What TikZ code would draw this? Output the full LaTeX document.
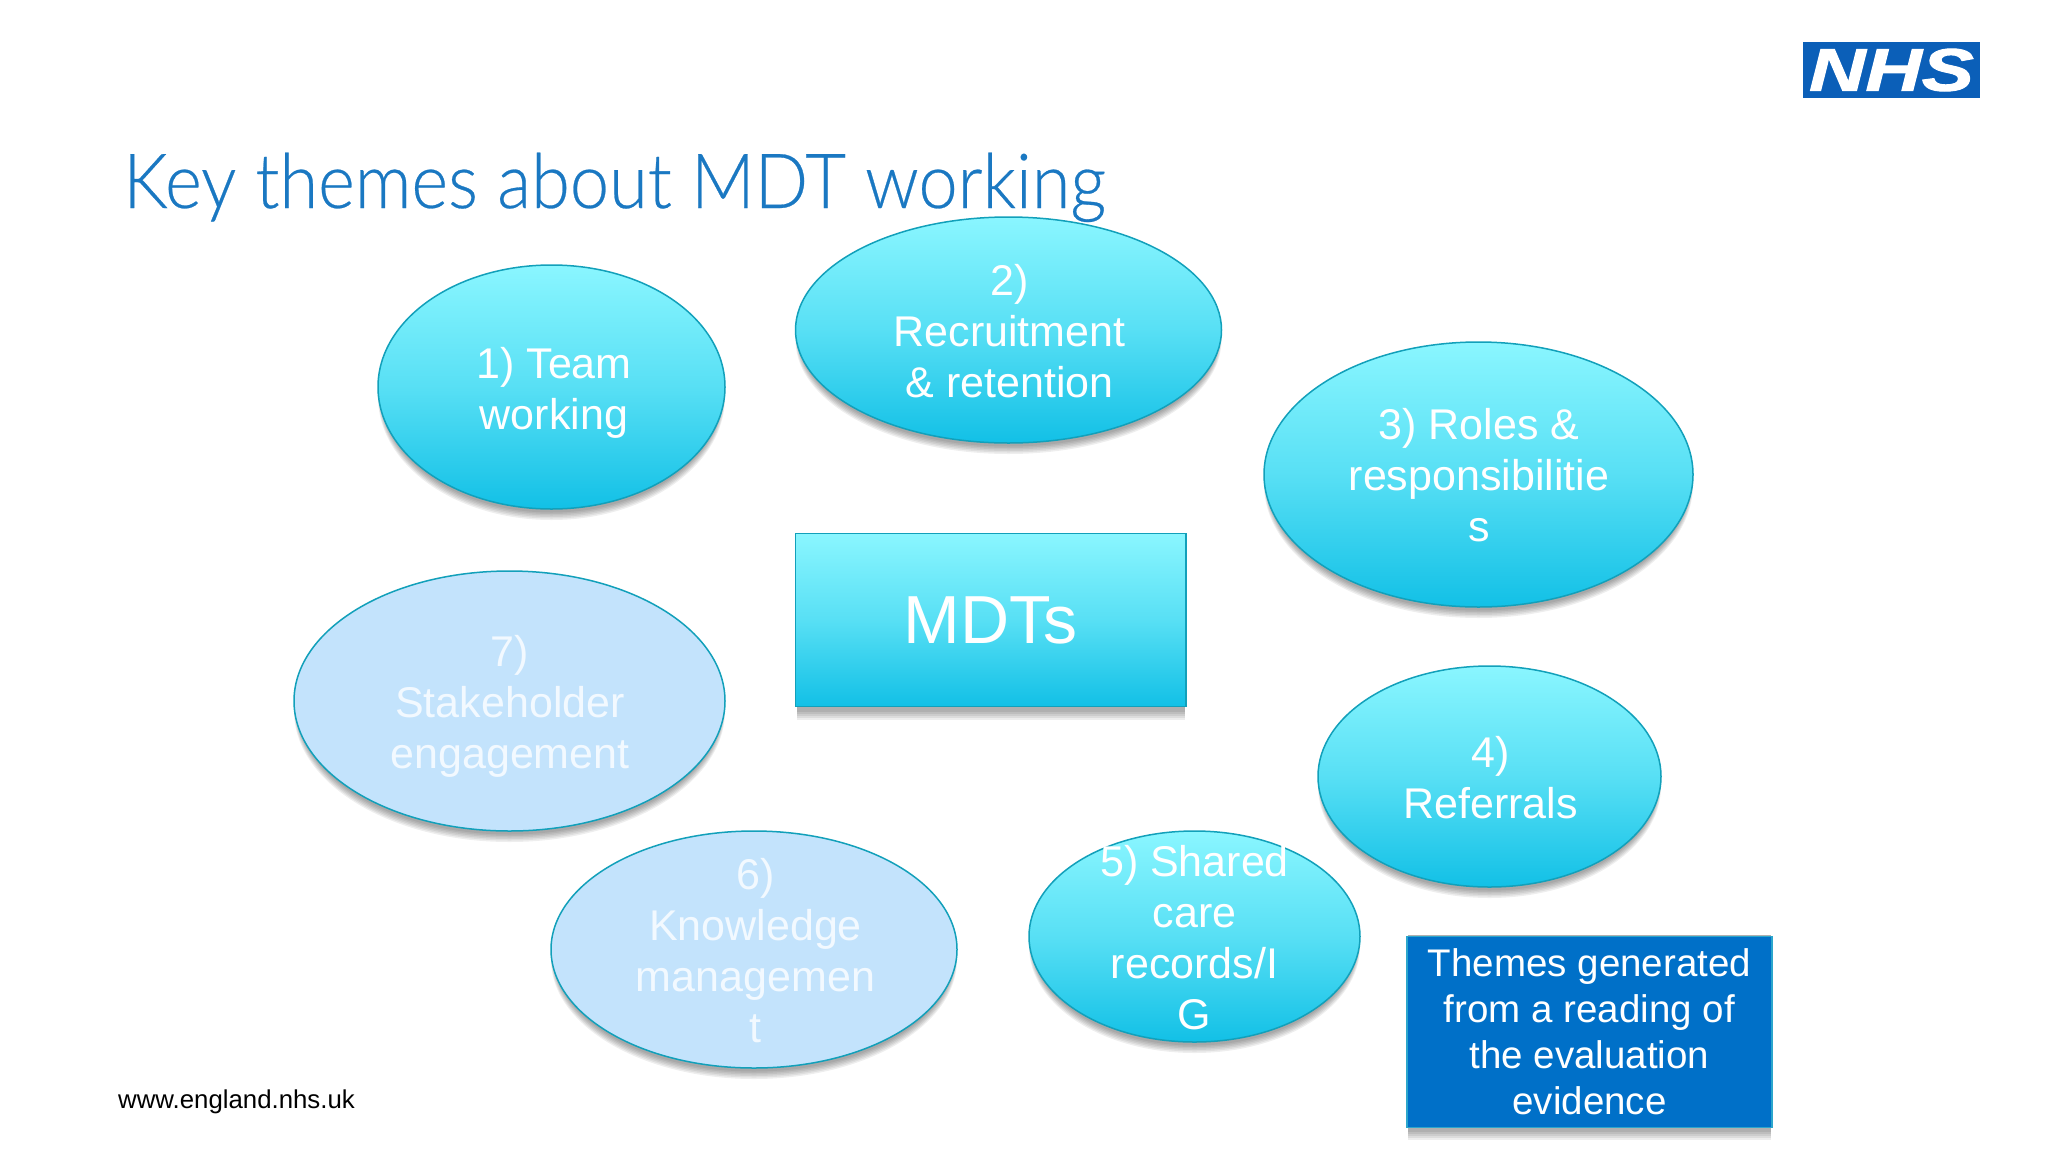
\documentclass[tikz,border=0pt]{standalone}
\usepackage{fontspec}
\setmainfont{Liberation Sans}
\newfontfamily\titlefont{Lato Light}[FakeBold=0.35]
\newfontfamily\nhsfont{Liberation Sans Bold Italic}[FakeBold=1.6]
\usetikzlibrary{shapes.geometric}
\definecolor{gradtop}{HTML}{8AF6FF}
\definecolor{gradbot}{HTML}{12C0E6}
\definecolor{edgeteal}{HTML}{12A0BA}
\definecolor{paleblue}{HTML}{C3E3FC}
\definecolor{paletext}{HTML}{F2F9FF}
\definecolor{nhsblue}{HTML}{0B5FB8}
\definecolor{titleblue}{HTML}{1A78C2}
\definecolor{boxblue}{HTML}{0070C8}
\definecolor{boxedge}{HTML}{2CA6CC}
\tikzset{
  oval/.style={ellipse,draw=edgeteal,line width=1.5pt,inner sep=0pt,top color=gradtop,bottom color=gradbot,middle color=gradtop!58!gradbot},
  paleoval/.style={ellipse,draw=edgeteal,line width=1.5pt,inner sep=0pt,fill=paleblue},
  lab/.style={align=center,inner sep=0pt,text=white,font=\fontsize{43}{51}\selectfont},
  palelab/.style={lab,text=paletext},
}
% name, cx, cy, rx, ry, shape style, text style, text
\newcommand{\themeoval}[8]{%
  \foreach \o/\g in {10/4,9/3,8/2,7/1,6/0,5/-1}{
    \fill[black,opacity=0.065] (#2,#3+\o) ellipse ({#4-2+\g*0.5} and {#5+\g*0.5-1});
  }
  \node[#6,minimum width=2*#4 pt,minimum height=2*#5 pt] (#1) at (#2,#3) {};
  \node[#7] (#1t) at (#2,#3+2) {#8};
}
\newcommand{\boxshadow}[4]{%
  \foreach \o in {13,11,9,7,5}{
    \fill[black,opacity=0.07] (#1+1,#2) rectangle (#3-1,#4+\o);
  }
}
\begin{document}
\begin{tikzpicture}[x=1pt,y=-1pt]
\useasboundingbox (0,0) rectangle (2048,1152);
\fill[white] (0,0) rectangle (2048,1152);
% logo
\node[fill=nhsblue,minimum width=177pt,minimum height=56pt,inner sep=0pt] (logo) at (1891.5,70) {};
\node[inner sep=0pt,text=white] (logot) at (logo.center) {\scalebox{1.3}[1]{\nhsfont\fontsize{60}{60}\selectfont NHS}};
% title
\node[anchor=base west,inner sep=0pt,text=titleblue] (title) at (123,208) {\scalebox{0.925}[1]{\titlefont\fontsize{76}{80}\selectfont Key themes about MDT working}};
% footer
\node[anchor=base west,inner sep=0pt,text=black,font=\fontsize{25.8}{30}\selectfont] (foot) at (118,1108.5) {www.england.nhs.uk};
% ovals
\themeoval{e1}{551.5}{387}{173.5}{122}{oval}{lab,xshift=2.5pt,yshift=-4pt}{1) Team\\working}
\themeoval{e2}{1008.5}{330}{213}{113}{oval}{lab,xshift=1pt,yshift=1.3pt}{2)\\Recruitment\\\& retention}
\themeoval{e3}{1478.5}{474.5}{214.5}{132.5}{oval}{lab,xshift=0.5pt,yshift=1.3pt}{3) Roles \&\\responsibilitie\\s}
\themeoval{e4}{1489.5}{776.5}{171.5}{110.5}{oval}{lab,xshift=1pt,yshift=1.3pt}{4)\\Referrals}
\themeoval{e5}{1194.5}{936.5}{165.5}{105.5}{oval}{lab,yshift=1.3pt}{5) Shared\\care\\records/I\\G}
\themeoval{e6}{754}{949.5}{203}{118.5}{paleoval}{palelab,xshift=1.5pt,yshift=1.3pt}{6)\\Knowledge\\managemen\\t}
\themeoval{e7}{509.5}{701}{215.5}{130}{paleoval}{palelab,xshift=0.5pt,yshift=-3pt}{7)\\Stakeholder\\engagement}
% MDTs
\boxshadow{795.5}{533}{1186}{707}
\node[draw=edgeteal,line width=1.5pt,inner sep=0pt,top color=gradtop,bottom color=gradbot,middle color=gradtop!58!gradbot,minimum width=390.5pt,minimum height=173pt,text=white,font=\fontsize{68}{72}\selectfont] (mdt) at (990.7,620) {MDTs};
% note box
\boxshadow{1407}{935}{1772}{1127}
\node[draw=boxedge,line width=1.5pt,fill=boxblue,inner sep=0pt,minimum width=365pt,minimum height=191pt,text=white,align=center,font=\fontsize{38.5}{46}\selectfont] (note) at (1589.5,1032) {Themes generated\\from a reading of\\the evaluation\\evidence};
\end{tikzpicture}
\end{document}
